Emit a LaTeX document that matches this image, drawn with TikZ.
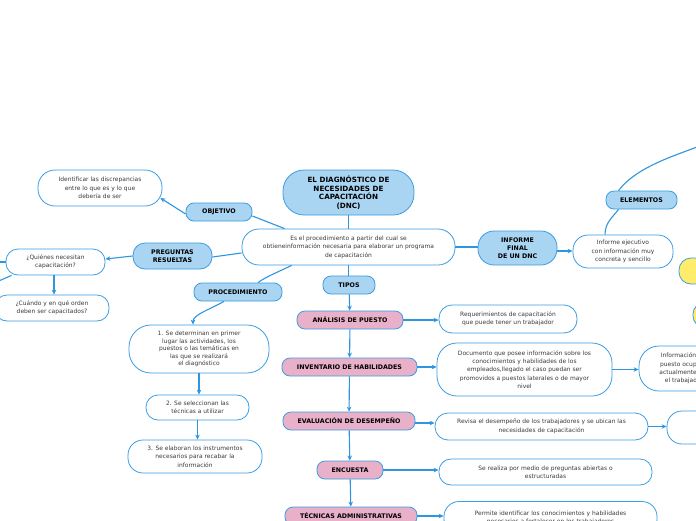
\documentclass[tikz,border=0pt]{standalone}
\usepackage{fontspec}
\setmainfont{DejaVu Sans}
\usetikzlibrary{arrows.meta}
\definecolor{lblue}{HTML}{A9D4F2}
\definecolor{bordc}{HTML}{3B9DE2}
\definecolor{linec}{HTML}{2E96DF}
\definecolor{lpink}{HTML}{E8B0C9}
\definecolor{lyell}{HTML}{FFEC6A}
\definecolor{txtc}{HTML}{3A3A3A}
\newcommand\dncsmall{\fontsize{5.95}{8.4}\selectfont}
\newcommand\dncbold{\fontsize{6.3}{7.8}\selectfont\bfseries}
\newcommand\dncroot{\fontsize{7.2}{8.6}\selectfont\bfseries}
\begin{document}
\begin{tikzpicture}[x=1pt,y=-1pt,
  box/.style={draw=bordc, line width=0.8pt, align=center, inner sep=0pt, text=txtc, font=\dncsmall},
  lbl/.style={box, fill=lblue, font=\dncbold, text=black},
  pnk/.style={box, fill=lpink, font=\dncbold, text=black},
  wht/.style={box, fill=white},
  yel/.style={box, fill=lyell},
  conn/.style={draw=linec, line width=1.1pt},
  arr/.style={conn, -{Stealth[length=5pt,width=4.5pt]}}]
\useasboundingbox (0,0) rectangle (696,520);
\fill[white] (0,0) rectangle (696,520);
\clip (0,0) rectangle (696,520);

% nodes
\node[lbl, font=\dncroot, minimum width=131pt, minimum height=45pt, rounded corners=21pt] (root) at (348.5,192.5) {EL DIAGNÓSTICO DE\\NECESIDADES DE\\CAPACITACIÓN\\(DNC)};
\node[wht, minimum width=213pt, minimum height=36pt, rounded corners=17pt] (desc) at (348.5,247) {Es el procedimiento a partir del cual se\\obtieneinformación necesaria para elaborar un programa\\de capacitación};
\node[lbl, minimum width=66pt, minimum height=18pt, rounded corners=8pt] (obj) at (219,212) {OBJETIVO};
\node[wht, minimum width=124pt, minimum height=36pt, rounded corners=17pt] (ident) at (100,188) {Identificar las discrepancias\\entre lo que es y lo que\\debería de ser};
\node[lbl, minimum width=79pt, minimum height=26pt, rounded corners=12pt] (preg) at (172.5,256) {PREGUNTAS\\RESUELTAS};
\node[wht, minimum width=99pt, minimum height=26pt, rounded corners=12pt] (quien) at (55.5,262) {¿Quiénes necesitan\\capacitación?};
\node[wht, minimum width=114pt, minimum height=26pt, rounded corners=12pt] (cuando) at (52,308) {¿Cuándo y en qué orden\\deben ser capacitados?};
\node[lbl, minimum width=88pt, minimum height=18pt, rounded corners=8pt] (proc) at (238,292) {PROCEDIMIENTO};
\node[wht, font=\fontsize{5.95}{7.6}\selectfont, minimum width=140pt, minimum height=48pt, rounded corners=22pt] (step1) at (199,349) {1. Se determinan en primer\\lugar las actividades, los\\puestos o las temáticas en\\las que se realizará\\el diagnóstico};
\node[wht, minimum width=103pt, minimum height=25pt, rounded corners=12pt] (step2) at (197.5,407.5) {2. Se seleccionan las\\técnicas a utilizar};
\node[wht, minimum width=134pt, minimum height=33pt, rounded corners=15pt] (step3) at (195,456.5) {3. Se elaboran los instrumentos\\necesarios para recabar la\\información};
\node[lbl, minimum width=52pt, minimum height=18pt, rounded corners=8pt] (tipos) at (349,285) {TIPOS};
\node[pnk, minimum width=106pt, minimum height=18pt, rounded corners=8pt] (anal) at (350,320) {ANÁLISIS DE PUESTO};
\node[pnk, minimum width=135pt, minimum height=18pt, rounded corners=8pt] (inv) at (349.5,367) {INVENTARIO DE HABILIDADES};
\node[pnk, minimum width=132pt, minimum height=18pt, rounded corners=8pt] (eval) at (349,421) {EVALUACIÓN DE DESEMPEÑO};
\node[pnk, minimum width=66pt, minimum height=18pt, rounded corners=8pt] (enc) at (350,470) {ENCUESTA};
\node[pnk, minimum width=132pt, minimum height=18pt, rounded corners=8pt] (tec) at (351,516) {TÉCNICAS ADMINISTRATIVAS};
\node[wht, minimum width=138pt, minimum height=28pt, rounded corners=13pt] (req) at (508,319) {Requerimientos de capacitación\\que puede tener un trabajador};
\node[wht, minimum width=175pt, minimum height=53pt, rounded corners=20pt] (doc) at (524.5,369.5) {Documento que posee información sobre los\\conocimientos y habilidades de los\\empleados,llegado el caso puedan ser\\promovidos a puestos laterales o de mayor\\nivel};
\node[wht, minimum width=90pt, minimum height=45pt, rounded corners=20pt] (info) at (684,368.5) {Información del\\puesto ocupado\\actualmente por\\el trabajador};
\node[wht, minimum width=213pt, minimum height=27pt, rounded corners=13pt] (rev) at (541.5,426.5) {Revisa el desempeño de los trabajadores y se ubican las\\necesidades de capacitación};
\node[wht, minimum width=100pt, minimum height=33pt, rounded corners=15pt] (rbox) at (717,427.5) {};
\node[wht, minimum width=213pt, minimum height=26pt, rounded corners=12pt] (real) at (545.5,472) {Se realiza por medio de preguntas abiertas o\\estructuradas};
\node[wht, minimum width=213pt, minimum height=33pt, rounded corners=15pt] (perm) at (550.5,518) {Permite identificar los conocimientos y habilidades\\necesarios a fortalecer en los trabajadores};
\node[lbl, minimum width=79pt, minimum height=34pt, rounded corners=16pt] (inf) at (517.5,248) {INFORME\\FINAL\\DE UN DNC};
\node[wht, minimum width=100pt, minimum height=33pt, rounded corners=15pt] (ejec) at (623,251.5) {Informe ejecutivo\\con información muy\\concreta y sencillo};
\node[lbl, minimum width=71pt, minimum height=18pt, rounded corners=8pt] (elem) at (641.5,200) {ELEMENTOS};
\node[yel, minimum width=70pt, minimum height=26pt, rounded corners=12pt] (yel1) at (714,271) {};
\node[yel, minimum width=64pt, minimum height=24pt, rounded corners=11pt] (yel2) at (725,315) {};

\coordinate (offA) at (-6,262);
\coordinate (offB) at (-6,283);
\coordinate (offC) at (702,145);

% connectors
\draw[conn] (root) -- (desc);
\draw[conn] ([xshift=43pt]desc.north west) -- ([yshift=-4pt]obj.east);
\draw[arr] ([yshift=-2pt]obj.west) -- ([xshift=-2pt,yshift=-10pt]ident.east);
\draw[conn] ([yshift=-6pt]desc.west) -- ([yshift=-1pt]preg.east);
\draw[arr] (preg.west) -- ([yshift=3pt]quien.east);
\draw[arr] ([xshift=-1.5pt]quien.south) -- ([xshift=-1.5pt]quien.south |- cuando.north);
\draw[conn] (quien.west) -- (offA);
\draw[conn] ([xshift=6pt]quien.south west) -- (offB);
\draw[conn] ([xshift=50pt]desc.south west) .. controls +(-12,6) and +(8,-6) .. ([xshift=20pt]proc.north);
\draw[arr] ([xshift=-14pt]proc.south) .. controls +(-14,8) and +(0,-10) .. ([xshift=-6pt]step1.north);
\draw[arr] (step1.south) -- (step1.south |- step2.north);
\draw[arr] (step2.south) -- (step2.south |- step3.north);
\draw[conn] (desc.south) -- (desc.south |- tipos.north);
\draw[arr] (tipos) -- (anal);
\draw[arr] (anal) -- (inv);
\draw[arr] (inv) -- (eval);
\draw[arr] (eval) -- (enc);
\draw[arr] (enc) -- (tec);
\draw[arr] (anal.east) -- (anal.east -| req.west);
\draw[arr] (inv.east) -- (inv.east -| doc.west);
\draw[arr] ([yshift=-2pt]eval.east) -- ([yshift=-2pt]eval.east -| rev.west);
\draw[arr] (enc.east) -- (enc.east -| real.west);
\draw[arr] (tec.east) -- (tec.east -| perm.west);
\draw[arr] (doc.east) -- (doc.east -| info.west);
\draw[arr] (rev.east) -- (rev.east -| rbox.west);
\draw[conn] (desc.east) -- (desc.east -| inf.west);
\draw[arr] ([yshift=-3pt]inf.east) -- ([yshift=-3pt]inf.east -| ejec.west);
\draw[conn] ([xshift=-18pt]ejec.north) .. controls +(0,-12) and +(-6,8) .. ([xshift=-23pt]elem.south);
\draw[arr] ([xshift=-23pt]elem.north) .. controls +(18,-24) and +(-25,10) .. (offC);
\end{tikzpicture}
\end{document}
